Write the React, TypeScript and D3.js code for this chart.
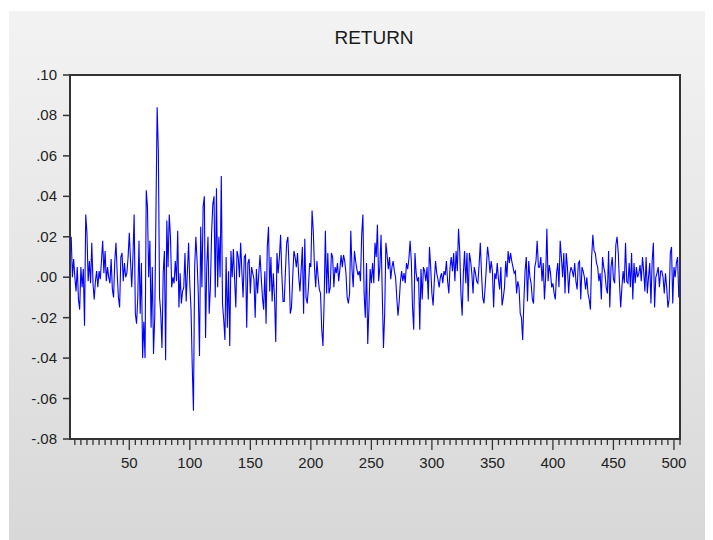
import React, { useRef, useEffect } from 'react';
import * as d3 from 'd3';

const obs001to050 = [
  10, 20, 0, 9, 0, -7, 5, -11, -16, 5,
  -5, 4, -24, 31, 22, -2, 8, -3, 17, -3,
  -11, -2, 3, -5, 3, -1, 8, 18, 2, 13,
  -2, 5, 0, -3, 9, -6, -10, 8, 17, 2,
  -10, -15, 10, 12, -2, 7, 0, 2, 10, 22,
];
const obs051to100 = [
  8, -5, 10, 31, -18, -23, -10, 18, -18, 7,
  -40, -22, -40, 43, 35, 0, 18, -25, 5, -38,
  -20, 31, 84, 62, -10, -18, -35, 2, 13, -41,
  28, 5, 31, 20, -5, 0, -3, 8, -2, 23,
  -15, 2, -13, -7, -5, 12, -12, 3, 17, -4,
];
const obs101to150 = [
  -16, -44, -66, 5, 20, 8, -8, -39, 25, -5,
  35, 40, -30, 5, 20, -18, -5, 22, 36, 40,
  -10, 44, -5, 20, 0, 50, -13, -21, -31, 10,
  -25, 3, -34, 13, 0, 14, -1, -15, 13, 10,
  0, 17, 3, -10, 10, 11, -25, 7, 9, -8,
];
const obs151to200 = [
  5, 2, -1, -20, 4, -8, 2, 11, 0, -10,
  -16, 3, -23, 15, 25, -7, 10, -12, 2, -10,
  -32, 12, 2, 10, 21, 2, -12, -12, 3, 17,
  20, 5, -18, -15, 0, 13, 10, 5, 12, 0,
  -7, 4, 15, -18, 19, -10, -13, -5, 7, 5,
];
const obs201to250 = [
  33, 23, 5, -5, 8, 0, -6, -8, -26, -34,
  -11, 23, -8, 12, -8, -5, 12, 10, -5, 5,
  2, 7, -2, 4, 11, 5, 11, 8, 2, -10,
  -13, -8, 23, 4, -5, 13, 8, 4, 1, 3,
  -2, 21, 31, -8, -20, 7, -33, -15, 4, -3,
];
const obs251to300 = [
  7, -3, 17, 10, 26, -2, 5, 21, -8, -35,
  -18, 17, 11, 4, 10, -1, 5, 8, 3, 0,
  -10, -19, -12, -2, 3, -2, 2, -3, 7, 4,
  9, 18, 8, -15, -26, 12, 2, -2, 0, -26,
  4, -11, 5, 3, -2, 5, -11, 15, 5, -8,
];
const obs301to350 = [
  -14, -2, 8, 2, -1, -5, 0, 2, -3, 3,
  1, 8, -2, -8, 5, 10, 3, 12, -2, 13,
  3, 24, 13, -8, -19, 2, 13, -3, 12, -12,
  12, 8, 2, -8, 5, 2, -2, -3, 6, 17,
  2, -10, -13, -5, 5, 15, 10, 2, 8, 3,
];
const obs351to400 = [
  -15, 2, -1, 7, -1, -6, 5, -14, -10, -5,
  8, 0, 13, 7, 12, 8, 5, 2, 3, -8,
  -2, -5, -18, -20, -31, -12, 3, 10, -12, 8,
  0, -3, -11, -13, 5, 8, 18, 5, 5, 10,
  -2, 7, -11, 0, 24, -2, 6, 2, -5, -3,
];
const obs401to450 = [
  -8, -11, 2, 7, -5, 18, 10, 0, 12, -8,
  12, 5, -8, 2, 5, 3, 0, 7, -2, -6,
  7, 8, -11, 5, 3, 0, -6, 0, -8, -11,
  -16, 10, 21, 13, 12, 7, 5, -2, 2, -11,
  10, 5, 2, -5, -8, 13, -15, 5, 10, -1,
];
const obs451to505 = [
  -3, 16, 20, 12, -3, -15, -5, 3, -3, 17,
  -2, -3, 7, -5, 12, -11, 7, -3, 5, 0,
  2, 6, -2, 10, 3, -7, 10, -8, 0, 7,
  -13, 8, 17, -15, 0, 2, 5, -5, 3, 3,
  0, -8, 2, -5, -15, -11, 12, 15, -13, 5,
  0, 7, 10, -10, -2,
];

const yTickValues = [0.10, 0.08, 0.06, 0.04, 0.02, 0.00, -0.02, -0.04, -0.06, -0.08];
const yTickLabels = ['.10', '.08', '.06', '.04', '.02', '.00', '-.02', '-.04', '-.06', '-.08'];
const xTickLabels = [50, 100, 150, 200, 250, 300, 350, 400, 450, 500];

const ReturnChart = () => {
  const chartRef = useRef<SVGSVGElement>(null);

  useEffect(() => {
    const returns = [
      ...obs001to050, ...obs051to100, ...obs101to150, ...obs151to200, ...obs201to250,
      ...obs251to300, ...obs301to350, ...obs351to400, ...obs401to450, ...obs451to505,
    ].map(v => v / 1000);

    const width = 713;
    const height = 540;
    const left = 70, right = 680, top = 75, bottom = 439;
    const font = 'Arial, "Liberation Sans", sans-serif';

    const x = d3.scaleLinear().domain([1, returns.length]).range([left, right]);
    const y = d3.scaleLinear().domain([-0.08, 0.10]).range([bottom, top]);

    const svg = d3.select(chartRef.current);
    svg.selectAll('*').remove();
    svg.attr('width', width).attr('height', height);

    // grey gradient panel behind everything
    const grad = svg.append('defs').append('linearGradient')
      .attr('id', 'panelGrad').attr('x1', 0).attr('y1', 0).attr('x2', 0).attr('y2', 1);
    grad.append('stop').attr('offset', '0%').attr('stop-color', '#f3f3f3');
    grad.append('stop').attr('offset', '100%').attr('stop-color', '#d8d8d8');

    svg.append('rect').attr('width', width).attr('height', height).attr('fill', '#ffffff');
    svg.append('rect')
      .attr('x', 9).attr('y', 11).attr('width', 696).attr('height', height - 11)
      .attr('fill', 'url(#panelGrad)');

    // plot area
    svg.append('rect')
      .attr('x', left).attr('y', top).attr('width', right - left).attr('height', bottom - top)
      .attr('fill', '#ffffff');

    // title
    svg.append('text')
      .attr('x', 374).attr('y', 44)
      .attr('text-anchor', 'middle')
      .style('font-family', font).style('font-size', '19px').style('fill', '#1a1a1a')
      .text('RETURN');

    // series
    const line = d3.line<number>()
      .x((d, i) => x(i + 1))
      .y(d => y(d));
    svg.append('path')
      .datum(returns)
      .attr('d', line)
      .attr('fill', 'none')
      .attr('stroke', '#0000ff')
      .attr('stroke-width', 1.1);

    // frame
    svg.append('rect')
      .attr('x', left).attr('y', top).attr('width', right - left).attr('height', bottom - top)
      .attr('fill', 'none').attr('stroke', '#333333').attr('stroke-width', 2);

    // y axis ticks + labels
    const yg = svg.append('g');
    yg.selectAll('line').data(yTickValues).enter().append('line')
      .attr('x1', left - 7).attr('x2', left)
      .attr('y1', d => y(d)).attr('y2', d => y(d))
      .attr('stroke', '#333333').attr('stroke-width', 1.5);
    yg.selectAll('text').data(yTickValues).enter().append('text')
      .attr('x', left - 13).attr('y', d => y(d) + 5)
      .attr('text-anchor', 'end')
      .style('font-family', font).style('font-size', '15px').style('fill', '#222')
      .text((d, i) => yTickLabels[i]);

    // x axis minor ticks every 5, major every 50
    const minor = d3.range(5, returns.length + 1, 5);
    const xg = svg.append('g');
    xg.selectAll('line').data(minor).enter().append('line')
      .attr('x1', d => x(d)).attr('x2', d => x(d))
      .attr('y1', bottom).attr('y2', d => bottom + (d % 50 === 0 ? 11 : 6))
      .attr('stroke', '#333333').attr('stroke-width', 1.3);
    xg.selectAll('text').data(xTickLabels).enter().append('text')
      .attr('x', d => x(d)).attr('y', 468)
      .attr('text-anchor', 'middle')
      .style('font-family', font).style('font-size', '15px').style('fill', '#222')
      .text(d => d);
  }, []);

  return <svg ref={chartRef}></svg>;
};

export default function App() {
  return (
    <div style={{ position: 'fixed', left: 0, top: 0, width: 713, height: 540, background: '#fff' }}>
      <ReturnChart />
    </div>
  );
}
